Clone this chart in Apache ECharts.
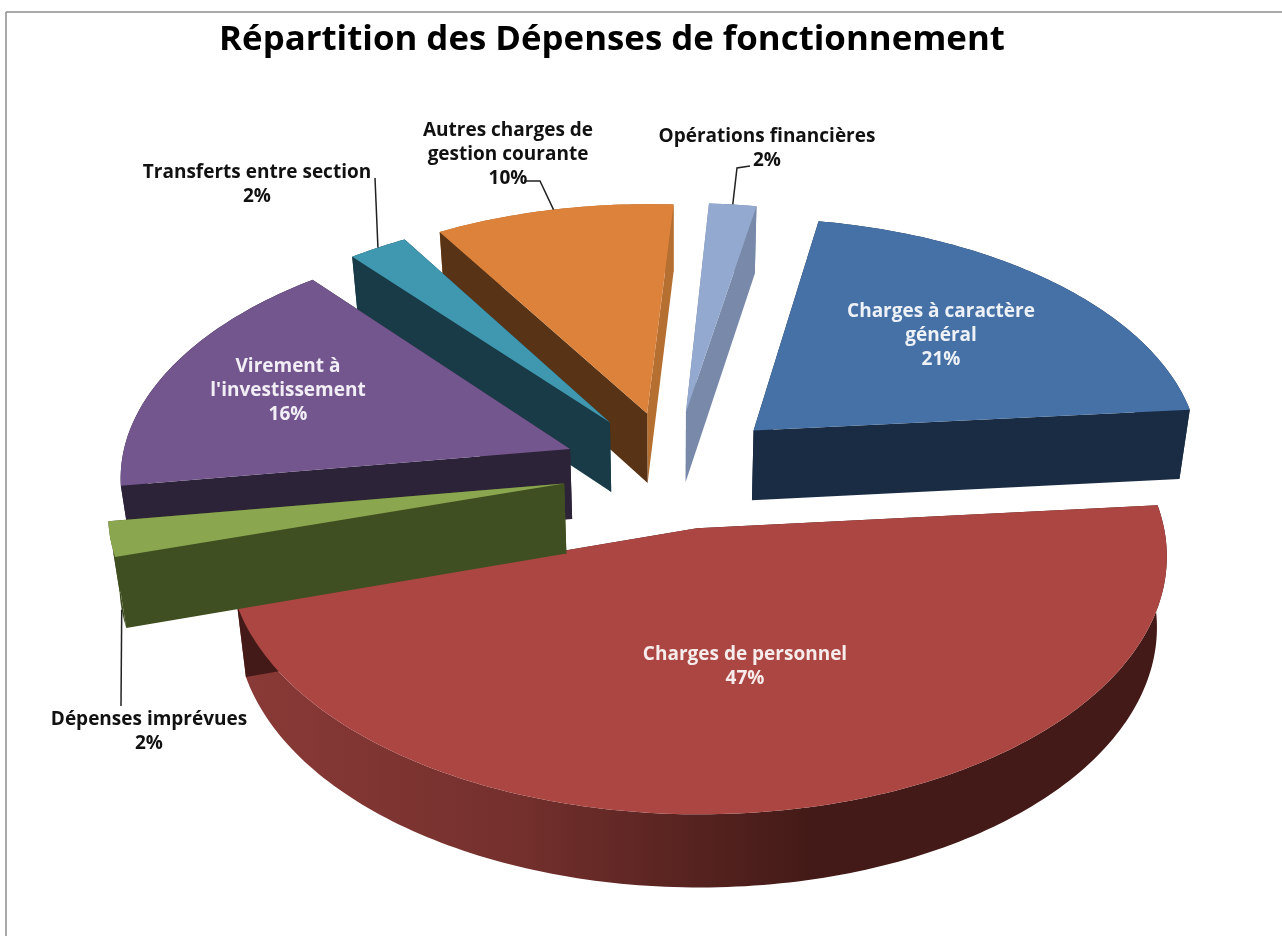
<!DOCTYPE html>
<html>
<head>
<meta charset="utf-8">
<title>Répartition des Dépenses de fonctionnement</title>
<script src="https://cdn.jsdelivr.net/npm/echarts@6/dist/echarts.min.js"></script>
<style>
html, body { margin: 0; padding: 0; background: #fff; }
#main { width: 1282px; height: 936px; }
</style>
</head>
<body>
<div id="main"></div>
<script>
// shares, clockwise from the first slice; the labels round them
var categories = ['Charges à caractère général', 'Charges de personnel', 'Dépenses imprévues',
    "Virement à l'investissement", 'Transferts entre section', 'Autres charges de gestion courante',
    'Opérations financières'];
var percents = [20.7, 46.7, 2.3, 16.4, 2.4, 9.6, 1.9];
var labelLines = [
    ['Charges à caractère', 'général'],
    ['Charges de personnel'],
    ['Dépenses imprévues'],
    ['Virement à', "l'investissement"],
    ['Transferts entre section'],
    ['Autres charges de', 'gestion courante'],
    ['Opérations financières']
];

// back to front, so nearer slices paint over the ones behind
var drawOrder = [5, 6, 4, 3, 0, 1, 2];

var topColors = ['#4571a6', '#ab4642', '#8aa64f', '#73568e', '#3f98b0', '#dc823a', '#94a9cf'];
var startWall = ['#1a2c44', '#431a17', '#404f21', '#2d2339', '#193b47', '#583316', '#7889a9'];
var endWall = ['#1a2c44', '#431a17', '#404f21', '#2d2339', '#193b47', '#b56f30', '#7889a9'];
var arcWall = ['#1a2c44', '#431a17', '#404f21', '#2d2339', '#193b47', '#b56f30', '#7889a9'];
var redArc = {
    type: 'linear', x: 0, y: 0, x2: 1, y2: 0,
    colorStops: [
        { offset: 0, color: '#8a3a37' },
        { offset: 0.3, color: '#74302d' },
        { offset: 0.5, color: '#55221f' },
        { offset: 0.62, color: '#431a17' },
        { offset: 1, color: '#431a17' }
    ]
};

// where the text sits: [center x, first line y]
var labelPos = [[941, 312], [745, 655], [149, 720], [288, 367], [257, 173], [508, 131], [767, 137]];
var labelFill = ['#eef2f7', '#f6ecec', '#111', '#f2eef5', '#111', '#111', '#111'];
// leader lines: elbow points from the text, then height on the slice edge (0 top, 1 bottom)
var leaders = {
    2: { from: [[121, 706]], z: 1 },
    4: { from: [[375, 178]], z: 0 },
    5: { from: [[524, 181], [540, 181]], z: 0 },
    6: { from: [[750, 166], [737, 168]], z: 0 }
};

var centerX = 673, centerY = 470;
var radii = [450, 456, 450, 450, 450, 450, 450];
var explode = 111;
var tilt = 0.536, persp = 0.124 / 556;
var depth = 70, shrink = 0.02;
var firstAngle = 10.3;
// the big slice sits a little off the common explode circle
var nudge = [[0, 0], [2, 3], [0, 0], [0, 0], [0, 0], [0, 0], [0, 0]];

function project(u, v, z) {
    var w = 1 + persp * v;
    var s = 1 - shrink * z;
    return [centerX + u / w * s, centerY - tilt * v / w * s + z * depth / w];
}

function sliceAngles(i) {
    var total = percents.reduce(function (a, b) { return a + b; }, 0);
    var a = firstAngle;
    for (var k = 0; k < i; k++) {
        a += percents[k] / total * 360;
    }
    return [a, a + percents[i] / total * 360];
}

function polar(apex, deg, r) {
    var t = deg * Math.PI / 180;
    return [apex[0] + r * Math.sin(t), apex[1] + r * Math.cos(t)];
}

function renderSlice(params, api) {
    var i = api.value(0);
    var ang = sliceAngles(i);
    var mid = (ang[0] + ang[1]) / 2;
    var radius = radii[i];
    var apex = polar(nudge[i], mid, explode);
    var arc = [];
    for (var d = ang[0]; d < ang[1]; d += 1) {
        arc.push(polar(apex, d, radius));
    }
    arc.push(polar(apex, ang[1], radius));
    var first = arc[0], last = arc[arc.length - 1];

    function wall(a, b, color) {
        return {
            type: 'polygon',
            shape: { points: [project(a[0], a[1], 0), project(b[0], b[1], 0), project(b[0], b[1], 1), project(a[0], a[1], 1)] },
            style: { fill: color }
        };
    }

    var children = [];
    var arcPts = [];
    arc.forEach(function (p) { arcPts.push(project(p[0], p[1], 0)); });
    arc.slice().reverse().forEach(function (p) { arcPts.push(project(p[0], p[1], 1)); });
    children.push({
        type: 'polygon',
        shape: { points: arcPts },
        style: { fill: i === 1 ? redArc : arcWall[i] }
    });

    children.push(wall(apex, last, endWall[i]));
    children.push(wall(apex, first, startWall[i]));

    var topPts = [project(apex[0], apex[1], 0)];
    arc.forEach(function (p) { topPts.push(project(p[0], p[1], 0)); });
    children.push({ type: 'polygon', shape: { points: topPts }, style: { fill: topColors[i] } });

    if (leaders[i]) {
        var edge = polar(apex, mid, radius);
        var pts = leaders[i].from.concat([project(edge[0], edge[1], leaders[i].z)]);
        children.push({
            type: 'polyline',
            shape: { points: pts },
            style: { stroke: '#222', lineWidth: 1.5, fill: null }
        });
    }

    var lines = labelLines[i].concat([Math.round(api.value(1)) + '%']);
    children.push({
        type: 'text',
        z2: 10,
        style: {
            text: lines.join('\n'),
            x: labelPos[i][0],
            y: labelPos[i][1] - 12,
            align: 'center',
            verticalAlign: 'top',
            lineHeight: 24,
            fill: labelFill[i],
            font: 'bold 19px "Open Sans"'
        }
    });
    return { type: 'group', children: children };
}

var chart = echarts.init(document.getElementById('main'));
chart.setOption({
    animation: false,
    backgroundColor: '#fff',
    title: {
        text: 'Répartition des Dépenses de fonctionnement',
        left: 607,
        top: 18,
        textAlign: 'center',
        textStyle: { fontFamily: 'Open Sans', fontWeight: 'bold', fontSize: 34.8, color: '#000' }
    },
    graphic: [
        { type: 'line', shape: { x1: 6, y1: 12, x2: 1282, y2: 12 }, style: { stroke: '#8c8c8c', lineWidth: 1.5 } },
        { type: 'line', shape: { x1: 6, y1: 12, x2: 6, y2: 936 }, style: { stroke: '#8c8c8c', lineWidth: 1.5 } }
    ],
    series: [{
        type: 'custom',
        coordinateSystem: 'none',
        renderItem: renderSlice,
        data: drawOrder.map(function (i) {
            return { name: categories[i], value: [i, percents[i]] };
        })
    }]
});
</script>
</body>
</html>
